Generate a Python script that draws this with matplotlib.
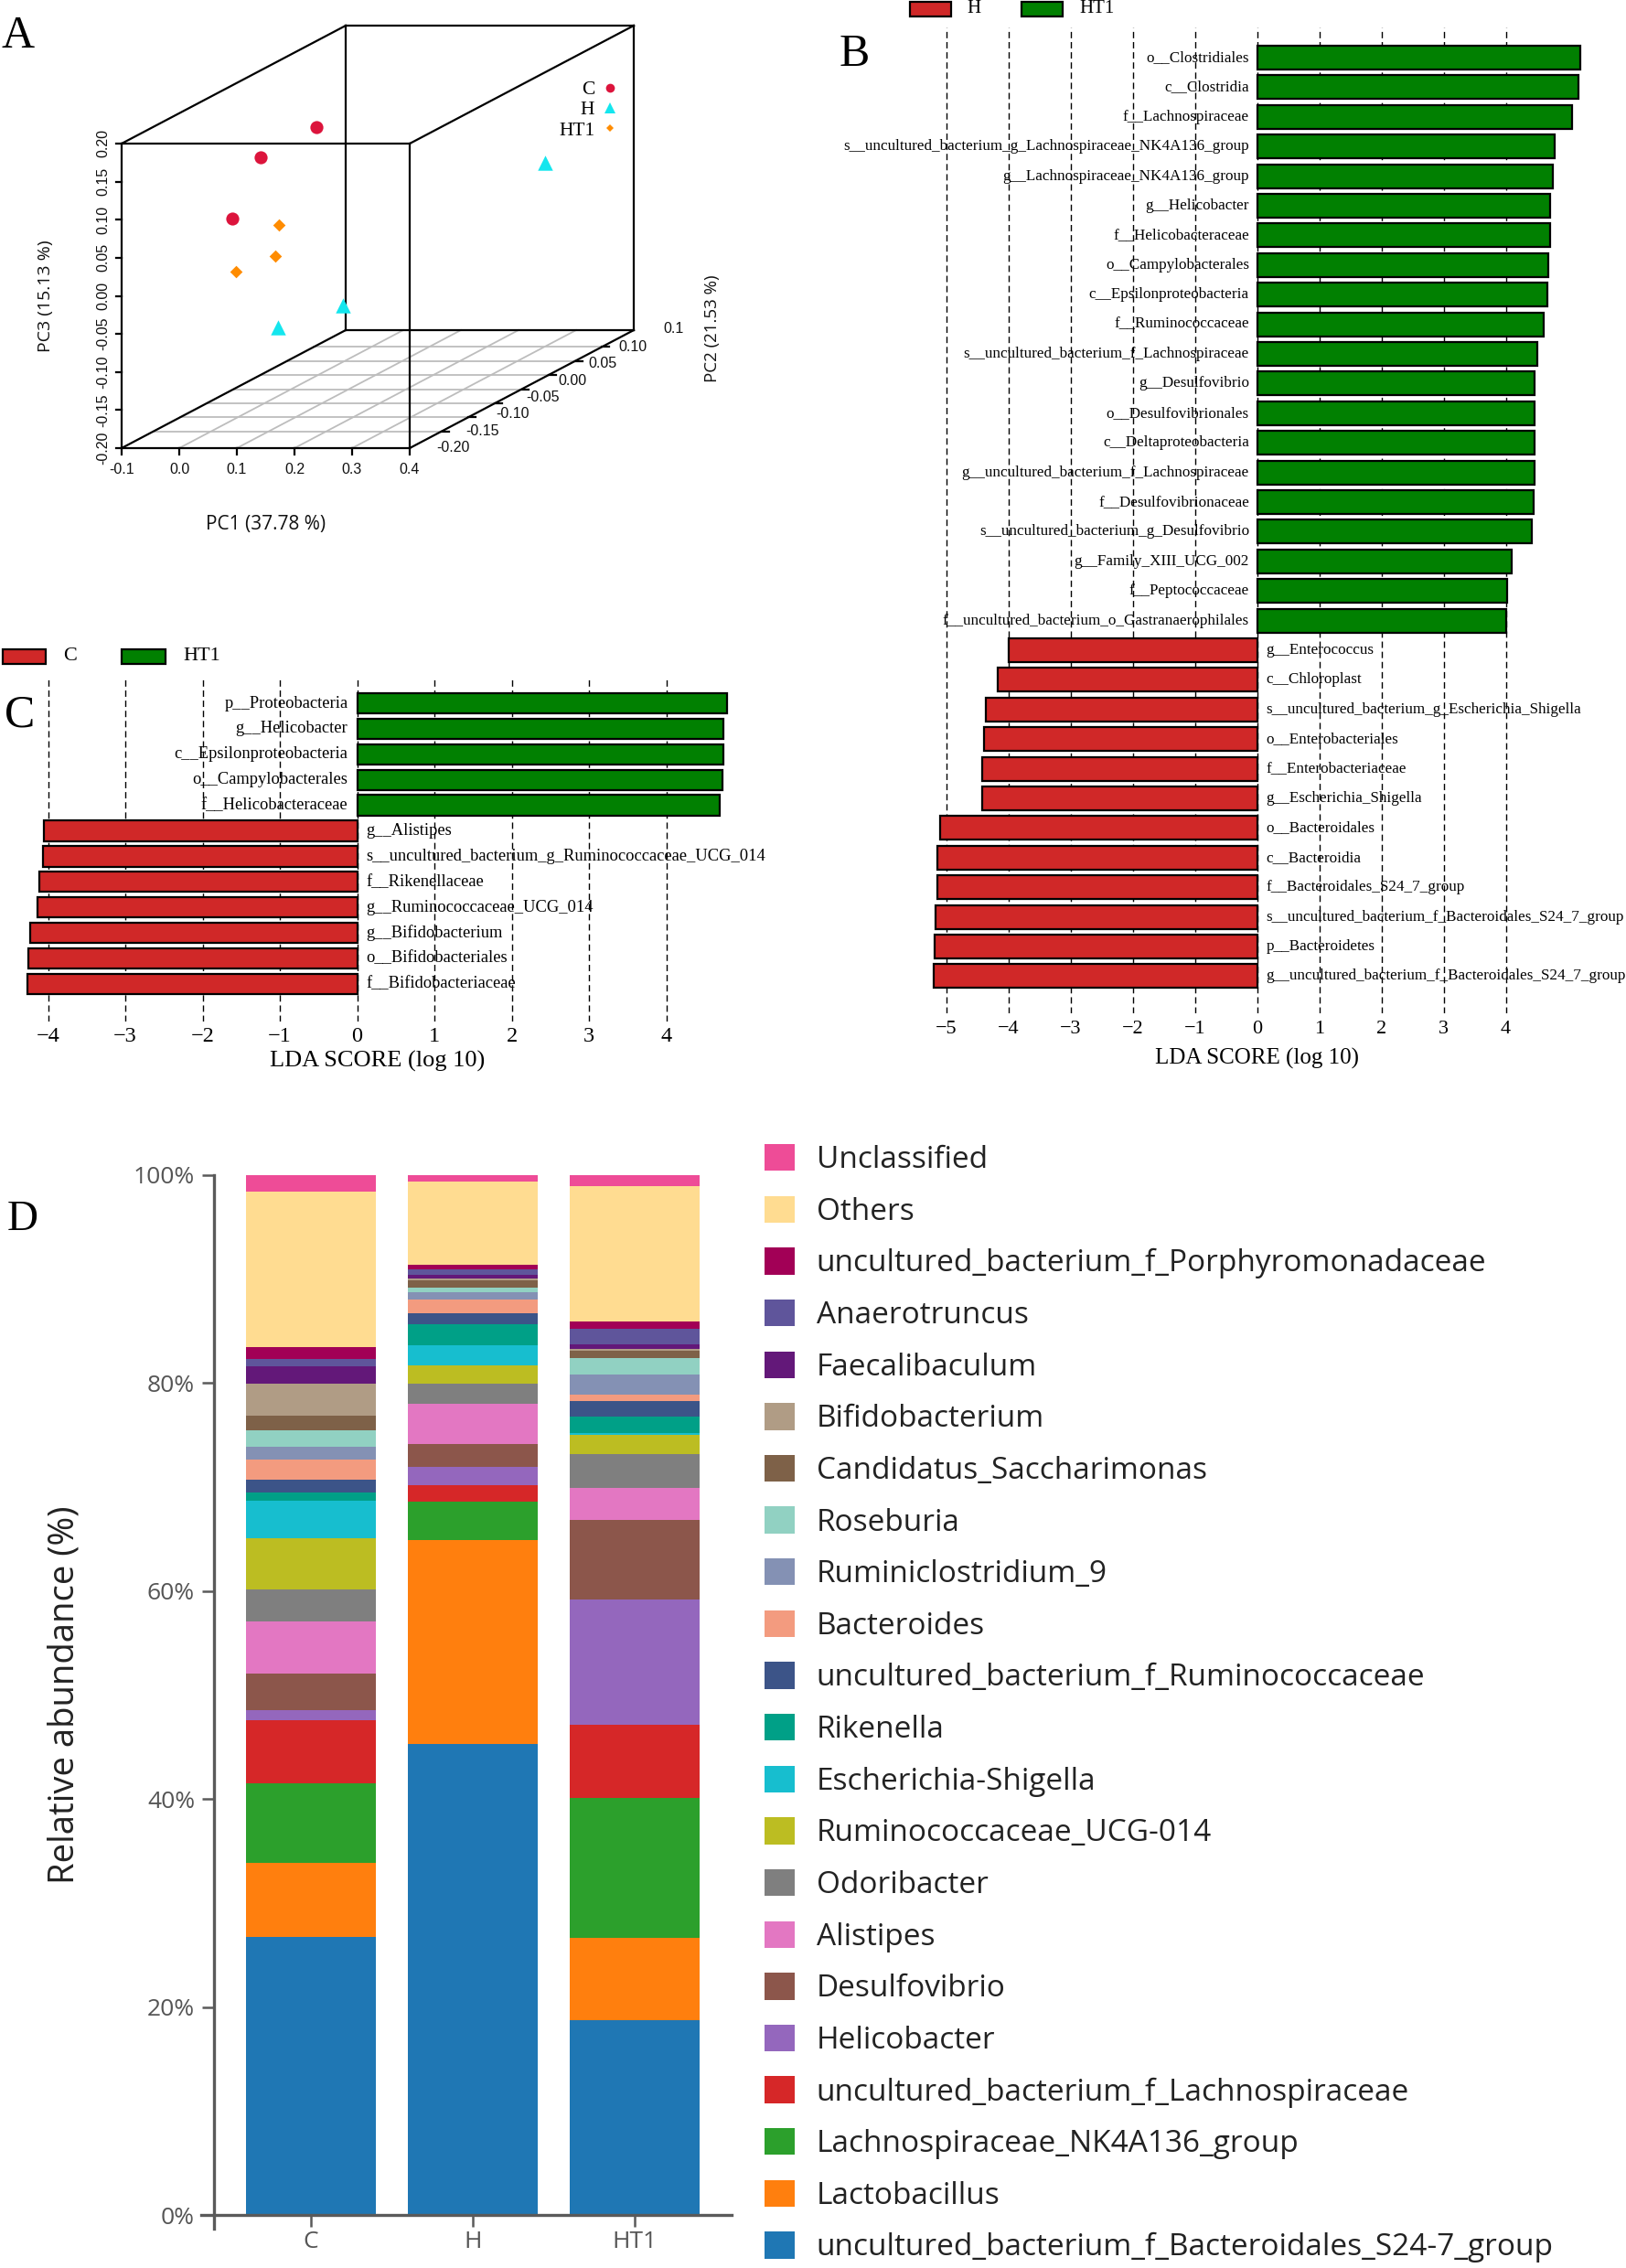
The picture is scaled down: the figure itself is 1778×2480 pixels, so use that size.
import matplotlib
matplotlib.use("Agg")
import matplotlib.pyplot as plt
from matplotlib.lines import Line2D
from matplotlib.patches import Rectangle
import numpy as np

# ======================= DATA =======================
# ---- Panel A: PCoA (PC1, PC2, PC3) ----
pca_groups = ["C", "H", "HT1"]
pc1_C = [0.044, 0.021, 0.009]
pc2_C = [-0.050, -0.130, -0.170]
pc3_C = [0.144, 0.134, 0.068]
pc1_H = [0.283, 0.090, 0.051]
pc2_H = [0.120, -0.050, -0.130]
pc3_H = [0.035, -0.090, -0.089]
pc1_HT1 = [0.016, -0.009, -0.004]
pc2_HT1 = [-0.090, -0.070, -0.150]
pc3_HT1 = [0.030, -0.018, -0.009]
pc1_ticks = [-0.1, 0.0, 0.1, 0.2, 0.3, 0.4]
pc1_ticklabels = ["-0.1", "0.0", "0.1", "0.2", "0.3", "0.4"]
pc2_ticks = [-0.20, -0.15, -0.10, -0.05, 0.00, 0.05, 0.10]
pc2_ticklabels = ["-0.20", "-0.15", "-0.10", "-0.05", "0.00", "0.05", "0.10"]
pc3_ticks = [-0.20, -0.15, -0.10, -0.05, 0.00, 0.05, 0.10, 0.15, 0.20]
pc3_ticklabels = ["-0.20", "-0.15", "-0.10", "-0.05", "0.00", "0.05", "0.10", "0.15", "0.20"]
pc1_grid = [0.0, 0.1, 0.2, 0.3]
PC1_LIM = (-0.1, 0.4)
PC2_LIM = (-0.26, 0.16)
PC3_LIM = (-0.2, 0.2)

# ---- Panel B: LEfSe H vs HT1 ----
B_HT1_taxa = [
    "o__Clostridiales", "c__Clostridia", "f__Lachnospiraceae",
    "s__uncultured_bacterium_g_Lachnospiraceae_NK4A136_group",
    "g__Lachnospiraceae_NK4A136_group", "g__Helicobacter", "f__Helicobacteraceae",
    "o__Campylobacterales", "c__Epsilonproteobacteria", "f__Ruminococcaceae",
    "s__uncultured_bacterium_f_Lachnospiraceae", "g__Desulfovibrio",
    "o__Desulfovibrionales", "c__Deltaproteobacteria",
    "g__uncultured_bacterium_f_Lachnospiraceae", "f__Desulfovibrionaceae",
    "s__uncultured_bacterium_g_Desulfovibrio", "g__Family_XIII_UCG_002",
    "f__Peptococcaceae", "f__uncultured_bacterium_o_Gastranaerophilales"]
B_HT1_lda = [5.20, 5.17, 5.06, 4.79, 4.76, 4.71, 4.71, 4.69, 4.67, 4.61,
             4.51, 4.46, 4.46, 4.46, 4.46, 4.45, 4.42, 4.10, 4.02, 4.01]
B_H_taxa = [
    "g__Enterococcus", "c__Chloroplast",
    "s__uncultured_bacterium_g_Escherichia_Shigella", "o__Enterobacteriales",
    "f__Enterobacteriaceae", "g__Escherichia_Shigella", "o__Bacteroidales",
    "c__Bacteroidia", "f__Bacteroidales_S24_7_group",
    "s__uncultured_bacterium_f_Bacteroidales_S24_7_group", "p__Bacteroidetes",
    "g__uncultured_bacterium_f_Bacteroidales_S24_7_group"]
B_H_lda = [-4.00, -4.17, -4.37, -4.40, -4.42, -4.42, -5.11, -5.15, -5.15,
           -5.17, -5.19, -5.20]
B_ticks = [-5, -4, -3, -2, -1, 0, 1, 2, 3, 4]

# ---- Panel C: LEfSe C vs HT1 ----
C_HT1_taxa = ["p__Proteobacteria", "g__Helicobacter", "c__Epsilonproteobacteria",
              "o__Campylobacterales", "f__Helicobacteraceae"]
C_HT1_lda = [4.79, 4.74, 4.74, 4.73, 4.69]
C_C_taxa = ["g__Alistipes", "s__uncultured_bacterium_g_Ruminococcaceae_UCG_014",
            "f__Rikenellaceae", "g__Ruminococcaceae_UCG_014", "g__Bifidobacterium",
            "o__Bifidobacteriales", "f__Bifidobacteriaceae"]
C_C_lda = [-4.06, -4.07, -4.11, -4.14, -4.23, -4.25, -4.27]
C_ticks = [-4, -3, -2, -1, 0, 1, 2, 3, 4]

# ---- Panel D: relative abundance (%) of genera, bottom -> top ----
D_groups = ["C", "H", "HT1"]
genera = [
    "uncultured_bacterium_f_Bacteroidales_S24-7_group", "Lactobacillus",
    "Lachnospiraceae_NK4A136_group", "uncultured_bacterium_f_Lachnospiraceae",
    "Helicobacter", "Desulfovibrio", "Alistipes", "Odoribacter",
    "Ruminococcaceae_UCG-014", "Escherichia-Shigella", "Rikenella",
    "uncultured_bacterium_f_Ruminococcaceae", "Bacteroides", "Ruminiclostridium_9",
    "Roseburia", "Candidatus_Saccharimonas", "Bifidobacterium", "Faecalibaculum",
    "Anaerotruncus", "uncultured_bacterium_f_Porphyromonadaceae", "Others",
    "Unclassified"]
abund_C = [26.69, 7.17, 7.68, 6.03, 0.93, 3.52, 5.02, 3.11, 4.87, 3.62, 0.79,
           1.26, 1.92, 1.26, 1.57, 1.38, 3.08, 1.67, 0.70, 1.16, 14.93, 1.64]
abund_H = [45.28, 19.60, 3.68, 1.57, 1.82, 2.17, 3.87, 1.89, 1.79, 1.92, 2.04,
           1.10, 1.32, 0.63, 0.47, 0.70, 0.15, 0.38, 0.50, 0.44, 8.05, 0.63]
abund_HT1 = [18.70, 7.90, 13.50, 7.00, 12.10, 7.64, 3.05, 3.24, 1.86, 0.15, 1.60,
             1.54, 0.57, 1.98, 1.57, 0.70, 0.15, 0.47, 1.51, 0.69, 12.98, 1.10]
D_yticks = [0, 20, 40, 60, 80, 100]
D_yticklabels = ["0%", "20%", "40%", "60%", "80%", "100%"]

# ======================= STYLE =======================
genus_colors = ["#1F77B4", "#FF7F0E", "#2CA02C", "#D62728", "#9467BD", "#8C564B",
                "#E377C2", "#7F7F7F", "#BCBD22", "#17BECF", "#00A087", "#3C5488",
                "#F39B7F", "#8491B4", "#91D1C2", "#7E6148", "#B09C85", "#631879",
                "#5F559B", "#A20056", "#FFDC91", "#EE4C97"]
RED = "#D02828"
GREEN = "#018001"
SERIF = ["Liberation Serif", "DejaVu Serif"]
NARROW = ["Liberation Sans Narrow", "Liberation Sans", "DejaVu Sans"]
SANS_A = ["Open Sans", "DejaVu Sans"]
SANS_D = ["Open Sans", "DejaVu Sans"]

W, H = 1778, 2480
DPI = 100
fig = plt.figure(figsize=(W / DPI, H / DPI), dpi=DPI)


def px_axes(x0, y0, x1, y1):
    return fig.add_axes([x0 / W, 1 - y1 / H, (x1 - x0) / W, (y1 - y0) / H])


def ftext(x, y, s, **kw):
    return fig.text(x / W, 1 - y / H, s, **kw)


def frect(x0, y0, w, h, color):
    fig.add_artist(Rectangle((x0 / W, 1 - (y0 + h) / H), w / W, h / H,
                             transform=fig.transFigure, facecolor=color,
                             edgecolor="black", linewidth=1.6))


# ======================= PANEL A =======================
FX0, FX1, FYT, FYB = 133, 448, 157, 490       # front face in pixels
SX = (FX1 - FX0) / (PC1_LIM[1] - PC1_LIM[0])
SY = (FYB - FYT) / (PC3_LIM[1] - PC3_LIM[0])
DEPTH_DX, DEPTH_DY = 245, 129
KX = DEPTH_DX / SX / (PC2_LIM[1] - PC2_LIM[0])
KY = DEPTH_DY / SY / (PC2_LIM[1] - PC2_LIM[0])


def proj(p1, p2, p3):
    p1 = np.asarray(p1, float)
    d = np.asarray(p2, float) - PC2_LIM[0]
    return p1 + KX * d, np.asarray(p3, float) + KY * d


AX0, AY0, AX1, AY1 = 100, 10, 760, 540
axA = px_axes(AX0, AY0, AX1, AY1)
axA.set_xlim(PC1_LIM[0] - (FX0 - AX0) / SX, PC1_LIM[0] + (AX1 - FX0) / SX)
axA.set_ylim(PC3_LIM[0] - (AY1 - FYB) / SY, PC3_LIM[0] + (FYB - AY0) / SY)
axA.axis("off")

# floor grid
for v in pc2_ticks:
    xs, ys = proj(PC1_LIM, [v, v], [PC3_LIM[0]] * 2)
    axA.plot(xs, ys, color="#BDBDBD", lw=1.3, zorder=1)
for u in pc1_grid:
    xs, ys = proj([u, u], PC2_LIM, [PC3_LIM[0]] * 2)
    axA.plot(xs, ys, color="#BDBDBD", lw=1.3, zorder=1)

# box edges
corners = [(a, b, c) for a in PC1_LIM for b in PC2_LIM for c in PC3_LIM]
for i in range(len(corners)):
    for j in range(i + 1, len(corners)):
        diff = sum(1 for k in range(3) if corners[i][k] != corners[j][k])
        if diff == 1:
            xs, ys = proj([corners[i][0], corners[j][0]], [corners[i][1], corners[j][1]],
                          [corners[i][2], corners[j][2]])
            axA.plot(xs, ys, color="black", lw=1.6, zorder=2, solid_capstyle="projecting")

tick_kw = dict(textcoords="offset pixels", fontsize=11.5, family=NARROW, color="#111111")
for u, lab in zip(pc1_ticks, pc1_ticklabels):
    x, y = proj(u, PC2_LIM[0], PC3_LIM[0])
    axA.plot([x, x], [y, y - 7 / SY], color="black", lw=1.6)
    axA.annotate(lab, (x, y), xytext=(0, -24), ha="center", va="center", **tick_kw)
for v, lab in zip(pc3_ticks, pc3_ticklabels):
    x, y = proj(PC1_LIM[0], PC2_LIM[0], v)
    axA.plot([x - 6 / SX, x], [y, y], color="black", lw=1.6)
    axA.annotate(lab, (x, y), xytext=(-20, 0), ha="center", va="center", rotation=90,
                 **tick_kw)
n2 = len(pc2_ticks) - 1
for i, (v, lab) in enumerate(zip(pc2_ticks, pc2_ticklabels)):
    x, y = proj(PC1_LIM[1], v, PC3_LIM[0])
    axA.plot([x, x + 8 / SX], [y, y], color="black", lw=1.6)
    axA.annotate(lab, (x, y), xytext=(12 + 22 * i / n2, -(18 - 18 * i / n2)),
                 ha="center", va="center", **tick_kw)
x, y = proj(PC1_LIM[1], PC2_LIM[1], PC3_LIM[0])
axA.annotate("0.1", (x, y), xytext=(43, 1), ha="center", va="center", **tick_kw)

axA.scatter(*proj(pc1_C, pc2_C, pc3_C), marker="o", s=105, color="#DC143C",
            zorder=5, linewidths=0)
axA.scatter(*proj(pc1_H, pc2_H, pc3_H), marker="^", s=140, color="#14E6EE",
            zorder=5, linewidths=0)
axA.scatter(*proj(pc1_HT1, pc2_HT1, pc3_HT1), marker="D", s=48, color="#FF8C00",
            zorder=5, linewidths=0)

hA = [Line2D([], [], ls="none", marker="o", markersize=7, color="#DC143C", mew=0),
      Line2D([], [], ls="none", marker="^", markersize=8, color="#14E6EE", mew=0),
      Line2D([], [], ls="none", marker="D", markersize=4.5, color="#FF8C00", mew=0)]
legA = axA.legend(hA, pca_groups, markerfirst=False, loc="upper right",
                  bbox_to_anchor=(676 / W, 1 - 88 / H), bbox_transform=fig.transFigure,
                  frameon=False, borderpad=0, borderaxespad=0, handlelength=0.8,
                  handletextpad=0.4, labelspacing=0.1,
                  prop=dict(family=SERIF, size=15.5))

ftext(291, 573, "PC1 (37.78 %)", ha="center", va="center", fontsize=15,
      family=SANS_A, color="#111111")
ftext(50, 324, "PC3 (15.13 %)", ha="center", va="center", fontsize=14,
      family=SANS_A, rotation=90, color="#111111")
ftext(779, 359, "PC2 (21.53 %)", ha="center", va="center", fontsize=13.5,
      family=SANS_A, rotation=90, color="#111111")
ftext(2, 40, "A", ha="left", va="center", fontsize=36, family=SERIF)

# ======================= PANEL B =======================
B0, BU = 1374.8, 67.95        # px of x=0, px per LDA unit
BROW0, BROWS = 63, 32.4       # first row centre, row pitch (px)
BXL = (-5.5, 5.5)
BYT, BYB = 30, 1108
axB = px_axes(B0 + BXL[0] * BU, BYT, B0 + BXL[1] * BU, BYB)
axB.set_xlim(*BXL)
axB.set_ylim((BYB - BROW0) / BROWS, (BYT - BROW0) / BROWS)
yg = np.arange(len(B_HT1_taxa))
yr = np.arange(len(B_H_taxa)) + len(B_HT1_taxa)
axB.barh(yg, B_HT1_lda, height=0.8, color=GREEN, edgecolor="black", lw=1.6, zorder=2)
axB.barh(yr, B_H_lda, height=0.8, color=RED, edgecolor="black", lw=1.6, zorder=2)
for y, t in zip(yg, B_HT1_taxa):
    axB.text(-0.13, y, t, ha="right", va="center", fontsize=12.3, family=SERIF, zorder=3)
for y, t in zip(yr, B_H_taxa):
    axB.text(0.14, y, t, ha="left", va="center", fontsize=12.3, family=SERIF, zorder=3)
axB.set_xticks(B_ticks)
axB.set_xticklabels([("\u2212%d" % -t) if t < 0 else str(t) for t in B_ticks],
                    family=SERIF, fontsize=16)
axB.set_yticks([])
axB.tick_params(axis="x", length=0, pad=6)
axB.grid(axis="x", color="black", lw=1.0, ls=(0, (5, 3)), zorder=0)
axB.set_axisbelow(True)
for s in axB.spines.values():
    s.set_visible(False)
ftext(B0, 1157, "LDA SCORE (log 10)", ha="center", va="center", fontsize=18,
      family=SERIF)
ftext(934, 60, "B", ha="center", va="center", fontsize=36, family=SERIF)
frect(995, 2, 45, 16, RED)
ftext(1057, 10, "H", ha="left", va="center", fontsize=15, family=SERIF)
frect(1117, 2, 45, 16, GREEN)
ftext(1180, 10, "HT1", ha="left", va="center", fontsize=15, family=SERIF)

# ======================= PANEL C =======================
C0, CU = 390.6, 84.5
CROW0, CROWS = 769, 27.9
CXL = (-4.5, 5.3)
CYT, CYB = 740, 1117
axC = px_axes(C0 + CXL[0] * CU, CYT, C0 + CXL[1] * CU, CYB)
axC.set_xlim(*CXL)
axC.set_ylim((CYB - CROW0) / CROWS, (CYT - CROW0) / CROWS)
cg = np.arange(len(C_HT1_taxa))
cr = np.arange(len(C_C_taxa)) + len(C_HT1_taxa)
axC.barh(cg, C_HT1_lda, height=0.8, color=GREEN, edgecolor="black", lw=1.6, zorder=2)
axC.barh(cr, C_C_lda, height=0.8, color=RED, edgecolor="black", lw=1.6, zorder=2)
for y, t in zip(cg, C_HT1_taxa):
    axC.text(-0.12, y, t, ha="right", va="center", fontsize=13.3, family=SERIF, zorder=3)
for y, t in zip(cr, C_C_taxa):
    axC.text(0.12, y, t, ha="left", va="center", fontsize=13.3, family=SERIF, zorder=3)
axC.set_xticks(C_ticks)
axC.set_xticklabels([("\u2212%d" % -t) if t < 0 else str(t) for t in C_ticks],
                    family=SERIF, fontsize=17.5)
axC.set_yticks([])
axC.tick_params(axis="x", length=0, pad=4)
axC.grid(axis="x", color="black", lw=1.0, ls=(0, (5, 3)), zorder=0)
axC.set_axisbelow(True)
for s in axC.spines.values():
    s.set_visible(False)
ftext(413, 1160, "LDA SCORE (log 10)", ha="center", va="center", fontsize=19,
      family=SERIF)
ftext(22, 782, "C", ha="center", va="center", fontsize=36, family=SERIF)
frect(3, 710, 47, 16, RED)
ftext(69, 718, "C", ha="left", va="center", fontsize=16, family=SERIF)
frect(133, 710, 48, 16, GREEN)
ftext(200, 718, "HT1", ha="left", va="center", fontsize=16, family=SERIF)

# ======================= PANEL D =======================
D_TOP, D_ZERO = 1284.6, 2422
DPP = (D_ZERO - D_TOP) / 100.0      # px per percent
DX0, DSP = 340, 177                 # centre of first bar, bar pitch (px)
DAX0, DAX1, DAYB = 220, 800, 2437
axD = px_axes(DAX0, D_TOP, DAX1, DAYB)
axD.set_xlim((DAX0 - DX0) / DSP, (DAX1 - DX0) / DSP)
axD.set_ylim(-(DAYB - D_ZERO) / DPP, 100)
xD = np.arange(len(D_groups))
data_D = np.array([abund_C, abund_H, abund_HT1]).T
bottom = np.zeros(len(D_groups))
handles = []
for g, vals, c in zip(genera, data_D, genus_colors):
    b = axD.bar(xD, vals, bottom=bottom, width=0.8, color=c, linewidth=0, label=g)
    handles.append(b)
    bottom = bottom + vals
for s in ["top", "right"]:
    axD.spines[s].set_visible(False)
axD.spines["left"].set_position(("data", -0.6))
axD.spines["bottom"].set_position(("data", 0))
for s in ["left", "bottom"]:
    axD.spines[s].set_color("#5A5A5A")
    axD.spines[s].set_linewidth(2.4)
axD.set_yticks(D_yticks)
axD.set_yticklabels(D_yticklabels, family=SANS_D, fontsize=19, color="#555555")
axD.set_xticks(xD)
axD.set_xticklabels(D_groups, family=SANS_D, fontsize=19, color="#555555")
axD.tick_params(axis="both", direction="out", length=9.4, width=1.8, color="#5A5A5A")
axD.tick_params(axis="y", pad=5.5)
axD.tick_params(axis="x", pad=3)
ftext(71, 1853, "Relative abundance (%)", ha="center", va="center", rotation=90,
      fontsize=27.5, family=SANS_D, color="#222222")
ftext(25, 1334, "D", ha="center", va="center", fontsize=34, family=SERIF)

legD = axD.legend(handles[::-1], genera[::-1], loc="upper left",
                  bbox_to_anchor=(836 / W, 1 - 1251 / H), bbox_transform=fig.transFigure,
                  frameon=False, borderpad=0, borderaxespad=0, handlelength=0.98,
                  handleheight=0.98, handletextpad=0.72, labelspacing=0.675,
                  prop=dict(family=SANS_D, size=24))
for t in legD.get_texts():
    t.set_color("#222222")

fig.savefig("out.png", dpi=DPI)
